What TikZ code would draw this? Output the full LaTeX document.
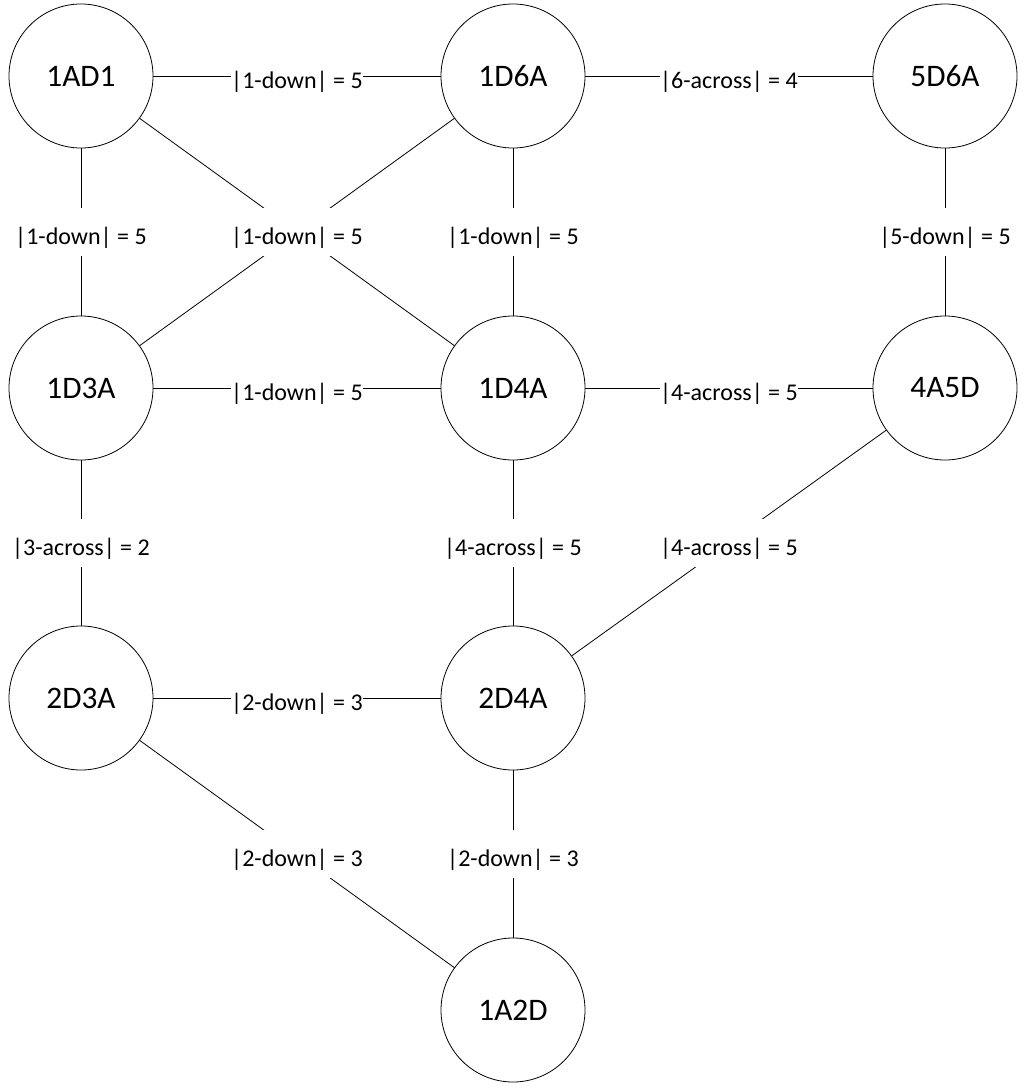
\documentclass[tikz,border=0pt]{standalone}
\usepackage{fontspec}
\setmainfont{Carlito}
\begin{document}
\begin{tikzpicture}[x=0.75pt, y=-0.75pt, line join=round, line cap=round, line width=0.6pt,
		state/.style={circle, draw, minimum size=108pt, inner sep=0pt, font=\fontsize{23.5}{28}\selectfont},
		lbl/.style={fill=white, inner xsep=0.5pt, inner ysep=7.5pt, text height=19.8pt, text depth=1.8pt, font=\fontsize{18}{22}\selectfont}]
			\useasboundingbox (0,0) rectangle (1023,1089);
			\def\xa{81} \def\xb{513} \def\xc{945} % columns
			\def\ya{76} \def\yb{388} \def\yc{698} \def\yd{1010} % rows
			\foreach \n/\x/\y in {1AD1/\xa/\ya, 1D6A/\xb/\ya, 5D6A/\xc/\ya, 1D3A/\xa/\yb, 1D4A/\xb/\yb, 4A5D/\xc/\yb, 2D3A/\xa/\yc, 2D4A/\xb/\yc, 1A2D/\xb/\yd}
				\node[state] (\n) at (\x,\y) {\n};
			\draw (1AD1) -- node[lbl]{|1-down| = 5} (1D6A);
			\draw (1D6A) -- node[lbl]{|6-across| = 4} (5D6A);
			\draw (1AD1) -- node[lbl]{|1-down| = 5} (1D3A);
			\draw (1AD1) -- (1D4A);
			\draw (1D6A) -- node[lbl]{|1-down| = 5} (1D3A);
			\draw (1D6A) -- node[lbl]{|1-down| = 5} (1D4A);
			\draw (5D6A) -- node[lbl]{|5-down| = 5} (4A5D);
			\draw (1D3A) -- node[lbl]{|1-down| = 5} (1D4A);
			\draw (1D4A) -- node[lbl]{|4-across| = 5} (4A5D);
			\draw (1D3A) -- node[lbl]{|3-across| = 2} (2D3A);
			\draw (1D4A) -- node[lbl]{|4-across| = 5} (2D4A);
			\draw (4A5D) -- node[lbl]{|4-across| = 5} (2D4A);
			\draw (2D3A) -- node[lbl]{|2-down| = 3} (2D4A);
			\draw (2D3A) -- node[lbl]{|2-down| = 3} (1A2D);
			\draw (2D4A) -- node[lbl]{|2-down| = 3} (1A2D);
\end{tikzpicture}
\end{document}
